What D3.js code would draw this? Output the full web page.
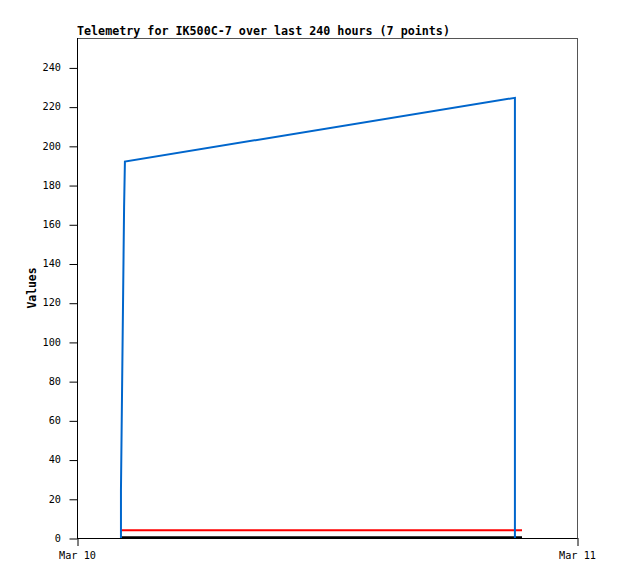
<!DOCTYPE html>
<meta charset="utf-8">
<style>
body { margin: 0; background: #fff; }
text { font-family: "DejaVu Sans Mono", monospace; }
.title { font-size: 11.7px; font-weight: bold; }
.ylabel { font-size: 11.4px; font-weight: bold; }
.axis text { font-size: 10.2px; fill: #000; }
</style>
<body>
<script src="https://d3js.org/d3.v7.min.js"></script>
<script>

// hours after Mar 10 00:00 UTC, and values
var valueHours = [2.11, 2.11, 2.16, 2.21, 2.26, 2.30, 21.02, 21.02];
var valueData  = [0, 24.5, 72.4, 120.4, 168.4, 192, 224.5, 0];
var redHours   = [2.11, 21.36];
var redData    = [3.9, 3.9];
var blackHours = [2.11, 21.36];
var blackData  = [0.4, 0.4];
var xTicks = ["2024-03-10", "2024-03-11"];
var yTicks = [0, 20, 40, 60, 80, 100, 120, 140, 160, 180, 200, 220, 240];

var margin = {top: 38, right: 41, bottom: 41, left: 77},
    width = 618 - margin.left - margin.right,
    height = 579 - margin.top - margin.bottom;

var svg = d3.select("body").append("svg")
    .attr("width", 618)
    .attr("height", 579);

var g = svg.append("g")
    .attr("transform", "translate(" + margin.left + "," + margin.top + ")");

var parse = d3.utcParse("%Y-%m-%d");
var start = parse(xTicks[0]);
function toDate(h) { return new Date(start.getTime() + h * 3600000); }

var x = d3.scaleUtc()
    .domain([parse(xTicks[0]), parse(xTicks[1])])
    .range([0, width]);

var y = d3.scaleLinear()
    .domain([0, 255])
    .range([height, 0]);

// frame
g.append("rect")
    .attr("x", 0.5).attr("y", 0.5)
    .attr("width", width).attr("height", height)
    .attr("fill", "none")
    .attr("stroke", "#555");

var yAxis = g.append("g")
    .attr("class", "axis")
    .call(d3.axisLeft(y).tickValues(yTicks).tickSize(8).tickPadding(8));
yAxis.select(".domain").remove();
yAxis.selectAll("line").attr("transform", "translate(0.5,0.5)").attr("stroke", "#000");

var xAxis = g.append("g")
    .attr("class", "axis")
    .attr("transform", "translate(0," + height + ")")
    .call(d3.axisBottom(x).tickValues(xTicks.map(parse)).tickFormat(d3.utcFormat("%b %d")).tickSize(8).tickPadding(6));
xAxis.select(".domain").remove();
xAxis.selectAll("line").attr("transform", "translate(0.5,0)").attr("stroke", "#000");

// left and bottom axis lines in black
g.append("line").attr("x1", 0.5).attr("x2", 0.5).attr("y1", 0).attr("y2", height + 0.5).attr("stroke", "#000");
g.append("line").attr("x1", 0).attr("x2", width).attr("y1", height + 0.5).attr("y2", height + 0.5).attr("stroke", "#000");

var line = d3.line()
    .x(function(d) { return x(toDate(d[0])); })
    .y(function(d) { return y(d[1]); });

function series(hours, vals, color) {
  g.append("path")
      .datum(d3.zip(hours, vals))
      .attr("fill", "none")
      .attr("stroke", color)
      .attr("stroke-width", 2)
      .attr("d", line);
}

series(blackHours, blackData, "#000");
series(redHours, redData, "#ff0000");
series(valueHours, valueData, "#0066cc");

svg.append("text")
    .attr("class", "title")
    .attr("x", margin.left)
    .attr("y", 35)
    .text("Telemetry for IK500C-7 over last 240 hours (7 points)");

svg.append("text")
    .attr("class", "ylabel")
    .attr("transform", "translate(36," + (margin.top + height / 2) + ") rotate(-90)")
    .attr("text-anchor", "middle")
    .text("Values");

</script>
